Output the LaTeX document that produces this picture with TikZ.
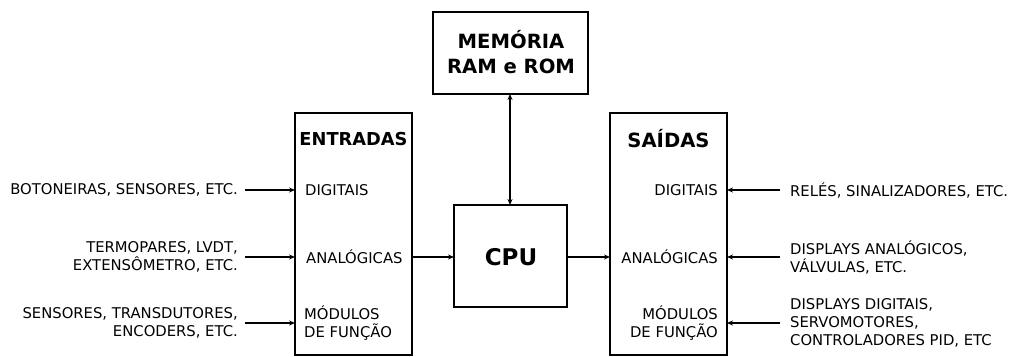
\documentclass[tikz,border=0pt]{standalone}
\usepackage{fontspec}
\setmainfont{DejaVu Sans}
\usetikzlibrary{arrows.meta}
\begin{document}
\begin{tikzpicture}[x=1pt,y=-1pt,
  blk/.style={draw,line width=1.3pt},
  arr/.style={line width=1.1pt,-{Stealth[length=6pt,width=5pt]}},
  lbl/.style={font=\fontsize{14.8}{18}\selectfont,inner sep=0pt},
  ttl/.style={font=\fontsize{19.6}{25}\selectfont\bfseries,inner sep=0pt,align=center}]
\useasboundingbox (0,0) rectangle (1011,356);
% boxes
\draw[blk] (433,12) rectangle (588,94);
\node[ttl] (mem) at (511,52) {MEMÓRIA\\RAM e ROM};
\coordinate (memb) at (510,94);
\draw[blk] (295,113) rectangle (412,355);
\node[ttl,font=\fontsize{17.8}{25}\selectfont\bfseries] (ent) at (353.5,139) {ENTRADAS};
\draw[blk] (610,113) rectangle (727,355);
\node[ttl] (sai) at (668.5,139) {SAÍDAS};
\draw[blk] (454,205) rectangle (567,307);
\node[font=\fontsize{23}{25}\selectfont\bfseries,inner sep=0pt] (cpu) at (511,257) {CPU};
\coordinate (cput) at (510,205);
\coordinate (cpul) at (454,257);
\coordinate (cpur) at (567,257);
\coordinate (entr) at (412,257);
\coordinate (sail) at (610,257);
% inner labels
\node[lbl,anchor=west] (ed) at (305,190) {DIGITAIS};
\node[lbl,anchor=west] (ea) at (306,257) {ANALÓGICAS};
\node[lbl,anchor=west,align=left] (em) at (304,323) {MÓDULOS\\DE FUNÇÃO};
\node[lbl,anchor=east] (sd) at (718,190) {DIGITAIS};
\node[lbl,anchor=east] (sa) at (718,257) {ANALÓGICAS};
\node[lbl,anchor=east,align=right] (sm) at (718,323) {MÓDULOS\\DE FUNÇÃO};
% left texts
\node[lbl,anchor=east] (l1) at (238,190) {BOTONEIRAS, SENSORES, ETC.};
\node[lbl,anchor=east,align=right] (l2) at (238,257) {TERMOPARES, LVDT,\\EXTENSÔMETRO, ETC.};
\node[lbl,anchor=east,align=right] (l3) at (238,323) {SENSORES, TRANSDUTORES,\\ENCODERS, ETC.};
% right texts
\node[lbl,anchor=west] (r1) at (790,190) {RELÉS, SINALIZADORES, ETC.};
\node[lbl,anchor=west,align=left] (r2) at (790,257) {DISPLAYS ANALÓGICOS,\\VÁLVULAS, ETC.};
\node[lbl,anchor=west,align=left] (r3) at (790,323) {DISPLAYS DIGITAIS,\\SERVOMOTORES,\\CONTROLADORES PID, ETC};
% arrow end points
\coordinate (el1) at (295,190);
\coordinate (el2) at (295,257);
\coordinate (el3) at (295,323);
\coordinate (sr1) at (727,190);
\coordinate (sr2) at (727,257);
\coordinate (sr3) at (727,323);
% connectors
\draw[arr] ([xshift=7pt]l1.east) -- (el1);
\draw[arr] (l2.east -| 245,0) -- (el2);
\draw[arr] (l3.east -| 245,0) -- (el3);
\draw[arr] ([xshift=-10pt]r1.west) -- (sr1);
\draw[arr] ([xshift=-10pt]r2.west) -- (sr2);
\draw[arr] ([xshift=-10pt]r3.west) -- (sr3);
\draw[arr] (entr) -- (cpul);
\draw[arr] (cpur) -- (sail);
\draw[line width=1.1pt,{Stealth[length=6pt,width=5pt]}-{Stealth[length=6pt,width=5pt]}] (memb) -- (cput);
\end{tikzpicture}
\end{document}
